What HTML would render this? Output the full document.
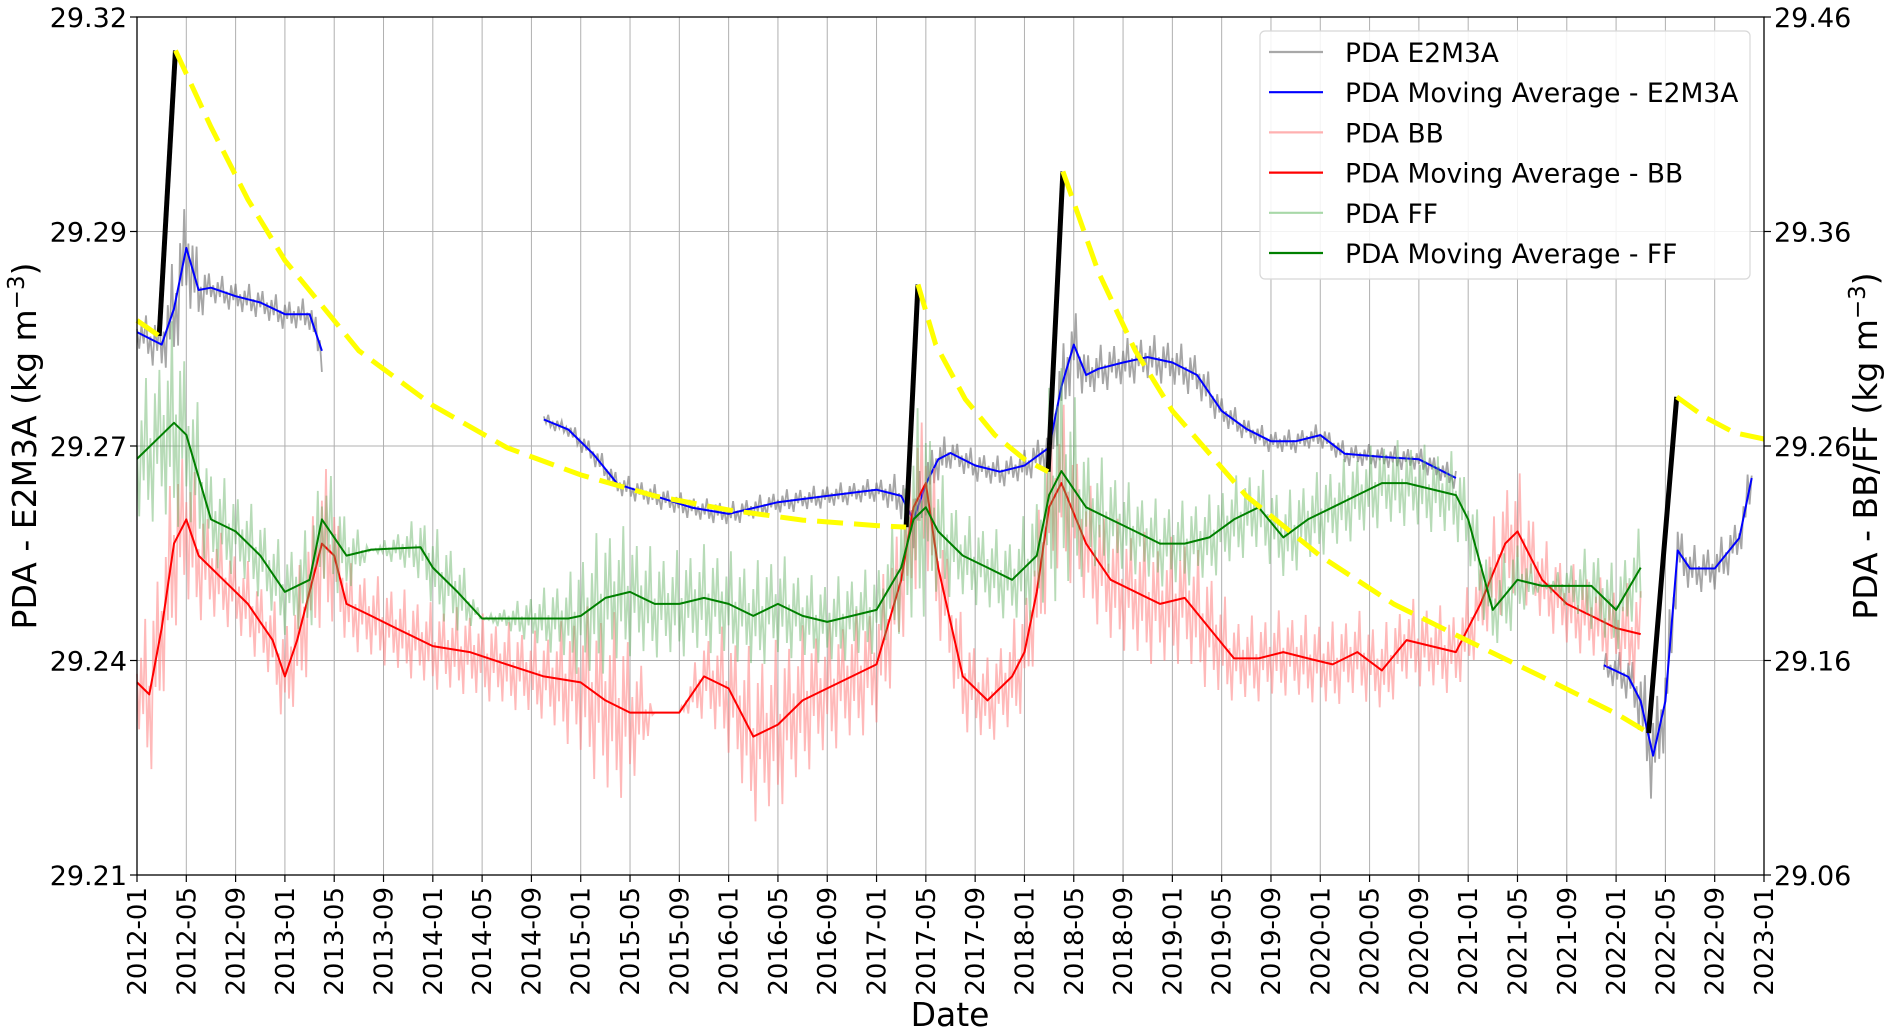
<!DOCTYPE html>
<html><head><meta charset="utf-8"><title>PDA chart</title>
<style>
html,body{margin:0;padding:0;background:#fff;}
svg{display:block;font-family:"DejaVu Sans","Liberation Sans",sans-serif;}
</style></head>
<body>
<svg id="chart" width="1895" height="1032" viewBox="0 0 1895 1032" xmlns="http://www.w3.org/2000/svg">
<g id="grid"></g>
<g id="series"></g>
<g id="axes"></g>
<text x="950" y="1026" font-size="33" text-anchor="middle">Date</text>
<text transform="translate(36,446) rotate(-90)" font-size="33" text-anchor="middle">PDA - E2M3A (kg m<tspan dy="-12" font-size="23">−3</tspan><tspan dy="12">)</tspan></text>
<text transform="translate(1877,446) rotate(-90)" font-size="33" text-anchor="middle">PDA - BB/FF (kg m<tspan dy="-12" font-size="23">−3</tspan><tspan dy="12">)</tspan></text>
<g id="legend"></g>
</svg>
<script>
// ---- data ----
const leftTicks = [29.21, 29.2375, 29.265, 29.2925, 29.32];
const leftTickLabels = ["29.21", "29.24", "29.27", "29.29", "29.32"];
const rightTicks = [29.06, 29.16, 29.26, 29.36, 29.46];
const rightTickLabels = ["29.06", "29.16", "29.26", "29.36", "29.46"];

const e2Dates = ["2012-01","2012-03","2012-04","2012-05","2012-06","2012-07","2012-09","2012-11","2013-01","2013-03","2013-04","2013-05","2014-10","2014-12","2015-02","2015-04","2015-07","2015-10","2016-01","2016-05","2016-09","2017-01","2017-03","2017-04","2017-05","2017-06","2017-07","2017-09","2017-11","2018-01","2018-03","2018-04","2018-05","2018-06","2018-07","2018-09","2018-11","2019-01","2019-03","2019-05","2019-07","2019-09","2019-11","2020-01","2020-03","2020-06","2020-09","2020-12","2021-01","2021-12","2022-02","2022-03","2022-04","2022-05","2022-06","2022-07","2022-09","2022-11","2022-12"];
const e2MA = [29.2796,29.278,29.2826,29.2904,29.285,29.2853,29.2842,29.2834,29.2819,29.2819,29.2772,null,29.2684,29.2671,29.264,29.2601,29.2586,29.2571,29.2563,29.2578,29.2586,29.2594,29.2586,29.2555,29.2601,29.2633,29.2641,29.2625,29.2617,29.2625,29.2648,29.2726,29.278,29.2741,29.2749,29.2757,29.2764,29.2757,29.2741,29.2695,29.2672,29.2656,29.2656,29.2664,29.264,29.2636,29.2633,29.2609,null,29.2369,29.2354,29.2323,29.2253,29.2323,29.2516,29.2493,29.2493,29.2532,29.2609];
const e2Spread = [.002,.004,.007,.008,.004,.002,.002,.002,.002,.002,.003,0,.0008,.001,.0015,.0015,.0015,.0015,.0015,.0015,.0015,.0015,.003,.004,.004,.003,.002,.002,.002,.002,.003,.006,.005,.003,.003,.003,.003,.003,.003,.002,.0015,.0015,.0015,.0015,.0015,.0015,.0015,.0015,0,.002,.003,.005,.007,.006,.004,.003,.003,.003,.003];

const bbDates = ["2012-01","2012-02","2012-03","2012-04","2012-05","2012-06","2012-08","2012-10","2012-12","2013-01","2013-02","2013-04","2013-05","2013-06","2013-08","2013-10","2014-01","2014-04","2014-07","2014-10","2015-01","2015-03","2015-05","2015-07","2015-09","2015-11","2016-01","2016-03","2016-05","2016-07","2016-09","2016-11","2017-01","2017-03","2017-04","2017-05","2017-06","2017-08","2017-10","2017-12","2018-01","2018-02","2018-03","2018-04","2018-06","2018-08","2018-10","2018-12","2019-02","2019-04","2019-06","2019-08","2019-10","2019-12","2020-02","2020-04","2020-06","2020-08","2020-10","2020-12","2021-02","2021-04","2021-05","2021-07","2021-09","2021-11","2022-01","2022-03"];
const bbMA = [29.1498,29.1442,29.1751,29.2145,29.2258,29.2089,29.1976,29.1864,29.1695,29.1526,29.1695,29.2145,29.2089,29.1864,29.1808,29.1751,29.1667,29.1639,29.1582,29.1526,29.1498,29.1414,29.1357,29.1357,29.1357,29.1526,29.147,29.1245,29.1301,29.1414,29.147,29.1526,29.1582,29.1976,29.2314,29.2427,29.2033,29.1526,29.1414,29.1526,29.1639,29.192,29.2314,29.2427,29.2145,29.1976,29.192,29.1864,29.1892,29.1751,29.161,29.161,29.1639,29.161,29.1582,29.1639,29.1554,29.1695,29.1667,29.1639,29.1864,29.2145,29.2202,29.1976,29.1864,29.1808,29.1751,29.1723];
const bbSpread = [.02,.04,.04,.04,.04,.03,.02,.02,.02,.025,.03,.04,.03,.02,.02,.02,.02,.02,.02,.02,.035,.045,.04,0,0,.02,.03,.04,.04,.035,.03,.03,.03,.035,.04,.04,.03,.025,.02,.025,.025,.03,.04,.04,.03,.03,.03,.03,.03,.03,.02,.02,.02,.02,.02,.02,.02,.02,.02,.02,.02,.03,.03,.02,.02,.02,.02,.025];

const ffDates = ["2012-01","2012-03","2012-04","2012-05","2012-07","2012-09","2012-11","2013-01","2013-03","2013-04","2013-06","2013-08","2013-12","2014-01","2014-03","2014-05","2014-12","2015-01","2015-03","2015-05","2015-07","2015-09","2015-11","2016-01","2016-03","2016-05","2016-07","2016-09","2016-11","2017-01","2017-03","2017-04","2017-05","2017-06","2017-08","2017-10","2017-12","2018-02","2018-03","2018-04","2018-06","2018-08","2018-10","2018-12","2019-02","2019-04","2019-06","2019-08","2019-10","2019-12","2020-02","2020-04","2020-06","2020-08","2020-10","2020-12","2021-01","2021-03","2021-05","2021-07","2021-11","2022-01","2022-03"];
const ffMA = [29.254,29.2652,29.2708,29.2652,29.2258,29.2202,29.2089,29.192,29.1976,29.2258,29.2089,29.2117,29.2128,29.2033,29.192,29.1796,29.1796,29.1808,29.1892,29.192,29.1864,29.1864,29.1892,29.1864,29.1808,29.1864,29.1808,29.178,29.1808,29.1836,29.2033,29.2258,29.2314,29.2202,29.2089,29.2033,29.1976,29.2089,29.2371,29.2483,29.2314,29.2258,29.2202,29.2145,29.2145,29.2174,29.2258,29.2314,29.2174,29.2258,29.2314,29.2371,29.2427,29.2427,29.2399,29.2371,29.2258,29.1836,29.1976,29.1948,29.1948,29.1836,29.2033];
const ffSpread = [.03,.04,.05,.04,.025,.02,.02,.02,.025,.03,.02,0,.015,.02,.02,0,.02,.03,.035,.03,.025,.025,.025,.025,.025,.025,.02,.02,.02,.02,.03,.05,.05,.03,.02,.02,.02,.03,.05,.06,.03,.025,.02,.02,.02,.02,.02,.02,.02,.02,.02,.02,.02,.02,.02,.02,.02,.02,.02,0,.02,.02,.02];

// shift lines (years since 2012-01, left axis)
const blackT = [[0.15,0.26],[5.2,5.28],[6.16,6.26],[10.22,10.41]];
const blackV = [[29.2791,29.3157],[29.2546,29.2857],[29.2617,29.3002],[29.2282,29.2713]];
const yellowT = [[0,0.15],[0.26,0.5,0.75,1.0,1.5,2.0,2.5,3.0,3.5,4.0,4.5,5.0,5.2],[5.28,5.4,5.6,5.8,6.0,6.16],[6.26,6.5,6.75,7.0,7.5,8.0,8.5,9.0,9.5,10.0,10.22],[10.41,10.6,10.8,11.0]];
const yellowV = [[29.2811,29.2791],[29.3157,29.3059,29.2966,29.2888,29.2772,29.2702,29.2648,29.2613,29.2586,29.2568,29.2555,29.2548,29.2546],[29.2857,29.278,29.271,29.2664,29.2633,29.2617],[29.3002,29.2873,29.2772,29.2695,29.2586,29.2509,29.2447,29.24,29.2354,29.2307,29.2282],[29.2713,29.2687,29.2667,29.2659]];
// fixed sampling pattern for raw daily variability
const jitter = [0.2,-0.9,0.5,-0.4,1.0,-0.7,0.1,-1.0,0.6,-0.3,0.8,-0.6];

// ---- axes ----
const X0=137,X1=1764,Y0=17,Y1=875;
const NS="http://www.w3.org/2000/svg";
function xM(m){return X0+m/132*(X1-X0);}
function xD(s){const p=s.split('-');return xM((+p[0]-2012)*12+(+p[1]-1));}
function xT(t){return xM(t*12);}
function yL(v){return Y1-(v-29.21)/0.11*(Y1-Y0);}
function yR(v){return Y1-(v-29.06)/0.40*(Y1-Y0);}
function mk(tag,attrs,parent){const e=document.createElementNS(NS,tag);for(const k in attrs)e.setAttribute(k,attrs[k]);parent.appendChild(e);return e;}

const grid=document.getElementById('grid'),axes=document.getElementById('axes'),ser=document.getElementById('series');
for(let m=0;m<=132;m+=4){
  const x=xM(m);
  const gl=mk('line',{x1:x,x2:x,y1:Y0,y2:Y1,stroke:'#b0b0b0','stroke-width':1},grid);
  
  
  const tk=mk('line',{x1:x,x2:x,y1:Y1,y2:Y1+7,stroke:'#000','stroke-width':1.2},axes);
  
  
  const yr=2012+Math.floor(m/12),mo=(m%12)+1;
  const t=mk('text',{transform:`translate(${x+9},${Y1+12}) rotate(-90)`,'font-size':26,'text-anchor':'end'},axes);
  t.textContent=yr+'-'+(mo<10?'0':'')+mo;
  
  
}
leftTicks.forEach((v,i)=>{
  const y=yL(v);
  const gl=mk('line',{x1:X0,x2:X1,y1:y,y2:y,stroke:'#b0b0b0','stroke-width':1},grid);
  
  
  const tk=mk('line',{x1:X0-7,x2:X0,y1:y,y2:y,stroke:'#000','stroke-width':1.2},axes);
  
  
  const t=mk('text',{x:X0-10,y:y+10,'font-size':27,'text-anchor':'end'},axes);
  t.textContent=leftTickLabels[i];
  
  
});
rightTicks.forEach((v,i)=>{
  const y=yR(v);
  const tk=mk('line',{x1:X1,x2:X1+7,y1:y,y2:y,stroke:'#000','stroke-width':1.2},axes);
  
  
  const t=mk('text',{x:X1+10,y:y+10,'font-size':27,'text-anchor':'start'},axes);
  t.textContent=rightTickLabels[i];
  
  
});
const frame=mk('rect',{x:X0,y:Y0,width:X1-X0,height:Y1-Y0,fill:'none',stroke:'#000','stroke-width':1.3},axes);



// ---- series ----
function runs(dates,vals){const out=[];let cur=[];dates.forEach((d,i)=>{if(vals[i]==null){if(cur.length)out.push(cur);cur=[];}else cur.push(i);});if(cur.length)out.push(cur);return out;}
function drawMA(dates,vals,yf,color,w,name){
  runs(dates,vals).forEach(r=>{
    const pts=r.map(i=>xD(dates[i]).toFixed(1)+','+yf(vals[i]).toFixed(1)).join(' ');
    const p=mk('polyline',{points:pts,fill:'none',stroke:color,'stroke-width':w,'stroke-linejoin':'round'},ser);
    
    
  });
}
function drawRaw(dates,vals,spread,yf,color,op,name){
  let k=0;
  runs(dates,vals).forEach(r=>{
    const pts=[];
    for(let j=0;j<r.length;j++){
      const i=r[j];
      if(j===r.length-1){pts.push([xD(dates[i]),yf(vals[i]+spread[i]*jitter[k%jitter.length])]);k++;break;}
      const i2=r[j+1],xa=xD(dates[i]),xb=xD(dates[i2]);
      const n=Math.max(2,Math.round((xb-xa)/2.2));
      for(let s=0;s<n;s++){
        const f=s/n,v=vals[i]+(vals[i2]-vals[i])*f,sp=spread[i]+(spread[i2]-spread[i])*f;
        pts.push([xa+(xb-xa)*f,yf(v+sp*jitter[k%jitter.length])]);k++;
      }
    }
    const p=mk('polyline',{points:pts.map(q=>q[0].toFixed(1)+','+q[1].toFixed(1)).join(' '),fill:'none',stroke:color,'stroke-opacity':op,'stroke-width':1.8},ser);
    
    
  });
}
drawRaw(e2Dates,e2MA,e2Spread,yL,'#808080',0.7,'pda-e2m3a-line');
drawMA(e2Dates,e2MA,yL,'#0000ff',2,'pda-moving-average-e2m3a-line');
drawRaw(bbDates,bbMA,bbSpread,yR,'#ff8080',0.55,'pda-bb-line');
drawMA(bbDates,bbMA,yR,'#ff0000',2,'pda-moving-average-bb-line');
drawRaw(ffDates,ffMA,ffSpread,yR,'#60b060',0.45,'pda-ff-line');
drawMA(ffDates,ffMA,yR,'#008000',2,'pda-moving-average-ff-line');
blackT.forEach((ts,i)=>{
  const l=mk('line',{x1:xT(ts[0]),y1:yL(blackV[i][0]),x2:xT(ts[1]),y2:yL(blackV[i][1]),stroke:'#000','stroke-width':5},ser);
  
  
});
yellowT.forEach((ts,i)=>{
  const pts=ts.map((t,j)=>xT(t).toFixed(1)+','+yL(yellowV[i][j]).toFixed(1)).join(' ');
  const p=mk('polyline',{points:pts,fill:'none',stroke:'#ffff00','stroke-width':5,'stroke-dasharray':'26,11'},ser);
  
  
});

// ---- legend ----
const lg=document.getElementById('legend');
const lbox=mk('rect',{x:1260,y:31,width:490,height:248,rx:5,fill:'#fff','fill-opacity':0.85,stroke:'#d8d8d8','stroke-width':1.2},lg);


const legLabels=["PDA E2M3A","PDA Moving Average - E2M3A","PDA BB","PDA Moving Average - BB","PDA FF","PDA Moving Average - FF"];
const legColors=["#a8a8a8","#0000ff","#ffb0b0","#ff0000","#a8d8a8","#008000"];
legLabels.forEach((s,i)=>{
  const y=52+i*40.2;
  const g=mk('g',{},lg);
  
  
  mk('line',{x1:1269,x2:1323,y1:y,y2:y,stroke:legColors[i],'stroke-width':2.2},g);
  const t=mk('text',{x:1345,y:y+10,'font-size':26.5},g);
  t.textContent=s;
});
</script>
</body></html>
